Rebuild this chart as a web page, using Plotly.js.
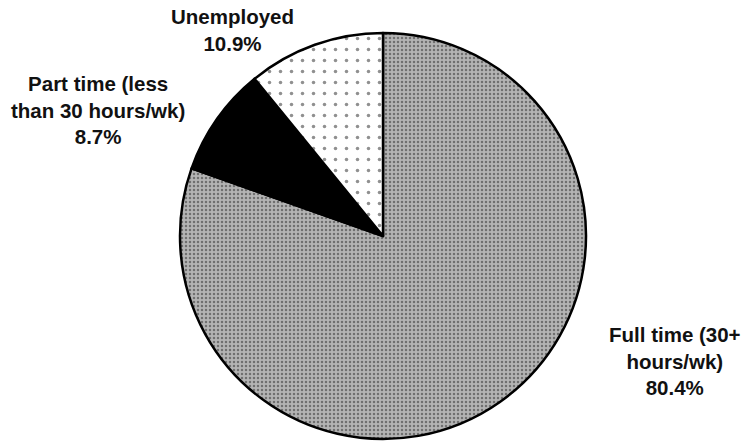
<!DOCTYPE html>
<html>
<head>
<meta charset="utf-8">
<script src="https://cdn.plot.ly/plotly-3.0.1.min.js"></script>
<style>html,body{margin:0;padding:0;background:#fff;}#chart{width:745px;height:442px;}</style>
</head>
<body>
<div id="chart"></div>
<script>
const labels = ["Full time (30+<br>hours/wk)", "Part time (less<br>than 30 hours/wk)", "Unemployed"];
const values = [80.4, 8.7, 10.9];
const sliceColors = ["#b4b4b4", "#000000", "#ffffff"];
const patternShapes = [".", "", "."];
const patternFg = ["#707070", "#000000", "#909090"];

// label anchor positions (paper coords)
const labelX = [675/745, 98/745, 232/745];
const labelY = [1 - 361/442, 1 - 110/442, 1 - 30/442];

const trace = {
  type: "pie",
  values: values,
  labels: labels,
  sort: false,
  direction: "clockwise",
  rotation: 0,
  textinfo: "none",
  hoverinfo: "label+percent",
  showlegend: false,
  domain: {x: [180/745, 586/745], y: [1 - 439/442, 1 - 33/442]},
  marker: {
    colors: sliceColors,
    line: {color: "#000000", width: 2.5},
    pattern: {
      shape: patternShapes,
      fgcolor: patternFg,
      bgcolor: sliceColors,
      size: [4, 8, 11],
      solidity: [0.3, 0.3, 0.08],
      fillmode: "replace"
    }
  }
};

const annotations = labels.map((l, i) => ({
  text: "<b>" + l + "<br>" + values[i].toFixed(1) + "%</b>",
  x: labelX[i], y: labelY[i], xref: "paper", yref: "paper",
  xanchor: "center", yanchor: "middle", showarrow: false, align: "center",
  font: {family: "Liberation Sans, Arial, sans-serif", size: 20.5, color: "#111"}
}));

Plotly.newPlot("chart", [trace], {
  width: 745, height: 442,
  margin: {l: 0, r: 0, t: 0, b: 0},
  paper_bgcolor: "#ffffff",
  annotations: annotations
}, {displayModeBar: false, staticPlot: true});
</script>
</body>
</html>
